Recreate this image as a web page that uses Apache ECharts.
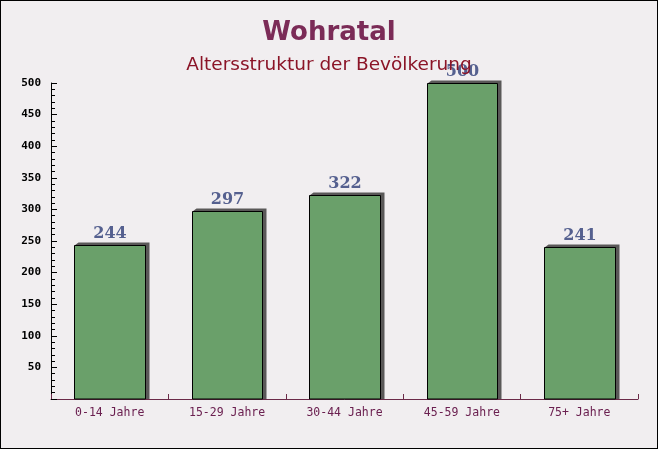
<!DOCTYPE html>
<html><head><meta charset="utf-8">
<script src="https://cdn.jsdelivr.net/npm/echarts@6/dist/echarts.min.js"></script>
<style>
html,body{margin:0;padding:0;background:#f1eef0;}
#c{width:656px;height:447px;border:1px solid #000;}
</style></head>
<body><div id="c"></div>
<script>
const categories = ['0-14 Jahre','15-29 Jahre','30-44 Jahre','45-59 Jahre','75+ Jahre'];
const values = [244, 297, 322, 500, 241];
const titleText = 'Wohratal';
const subtitleText = 'Altersstruktur der Bevölkerung';

const chart = echarts.init(document.getElementById('c'));
chart.setOption({
  backgroundColor: '#f1eef0',
  animation: false,
  title: [
    {text: titleText, left: 'center', top: 14,
     textStyle: {fontFamily: 'DejaVu Sans', fontWeight: 'bold', fontSize: 26, color: '#7b2b57'}},
    {text: subtitleText, left: 'center', top: 50,
     textStyle: {fontFamily: 'DejaVu Sans', fontWeight: 'normal', fontSize: 18.5, color: '#8b1427'}}
  ],
  grid: {left: 50, right: 19, top: 82, bottom: 49},
  xAxis: {
    type: 'category', data: categories,
    axisLine: {lineStyle: {color: '#6b2a48', width: 1}},
    axisTick: {show: true, inside: true, length: 5, lineStyle: {color: '#6b2a48'}},
    axisLabel: {fontFamily: 'DejaVu Sans Mono', fontSize: 11.5, color: '#6b2050', margin: 8}
  },
  yAxis: {
    type: 'value', min: 0, max: 500, interval: 50,
    axisLine: {show: true, lineStyle: {color: '#000', width: 1}},
    axisTick: {show: true, inside: true, length: 6, lineStyle: {color: '#000'}},
    minorTick: {show: true, splitNumber: 5, length: 4, lineStyle: {color: '#000'}},
    splitLine: {show: false},
    axisLabel: {fontFamily: 'DejaVu Sans Mono', fontWeight: 'bold', fontSize: 11, color: '#000', margin: 10,
      formatter: v => v === 0 ? '' : String(v)}
  },
  series: [{
    type: 'custom', data: values.map((v, i) => [i, v]),
    encode: {x: 0, y: 1},
    renderItem: function (params, api) {
      const i = api.value(0), v = api.value(1);
      const top = api.coord([i, v]);
      const base = api.coord([i, 0]);
      const w = api.size([1, 0])[0] * 0.6;
      const x0 = Math.round(top[0] - w / 2) + 0.5, x1 = Math.round(top[0] + w / 2) + 0.5;
      const yT = Math.round(top[1]) + 0.5, yB = Math.round(base[1]);
      const d = 4;
      return {
        type: 'group',
        children: [
          {type: 'polygon', shape: {points: [[x0, yT], [x0 + d, yT - d + 1], [x1 + d, yT - d + 1], [x1 + d, yB], [x1, yB]]},
           style: {fill: '#5a5858'}},
          {type: 'rect', shape: {x: x0, y: yT, width: x1 - x0, height: yB - yT},
           style: {fill: '#6aa06a', stroke: '#000', lineWidth: 1}},
          {type: 'text', x: (x0 + x1) / 2, y: yT - 4,
           style: {text: String(v), fill: '#55608f', font: 'bold 16px "DejaVu Serif"',
                   textAlign: 'center', textVerticalAlign: 'bottom'}}
        ]
      };
    }
  }]
});
</script></body></html>
